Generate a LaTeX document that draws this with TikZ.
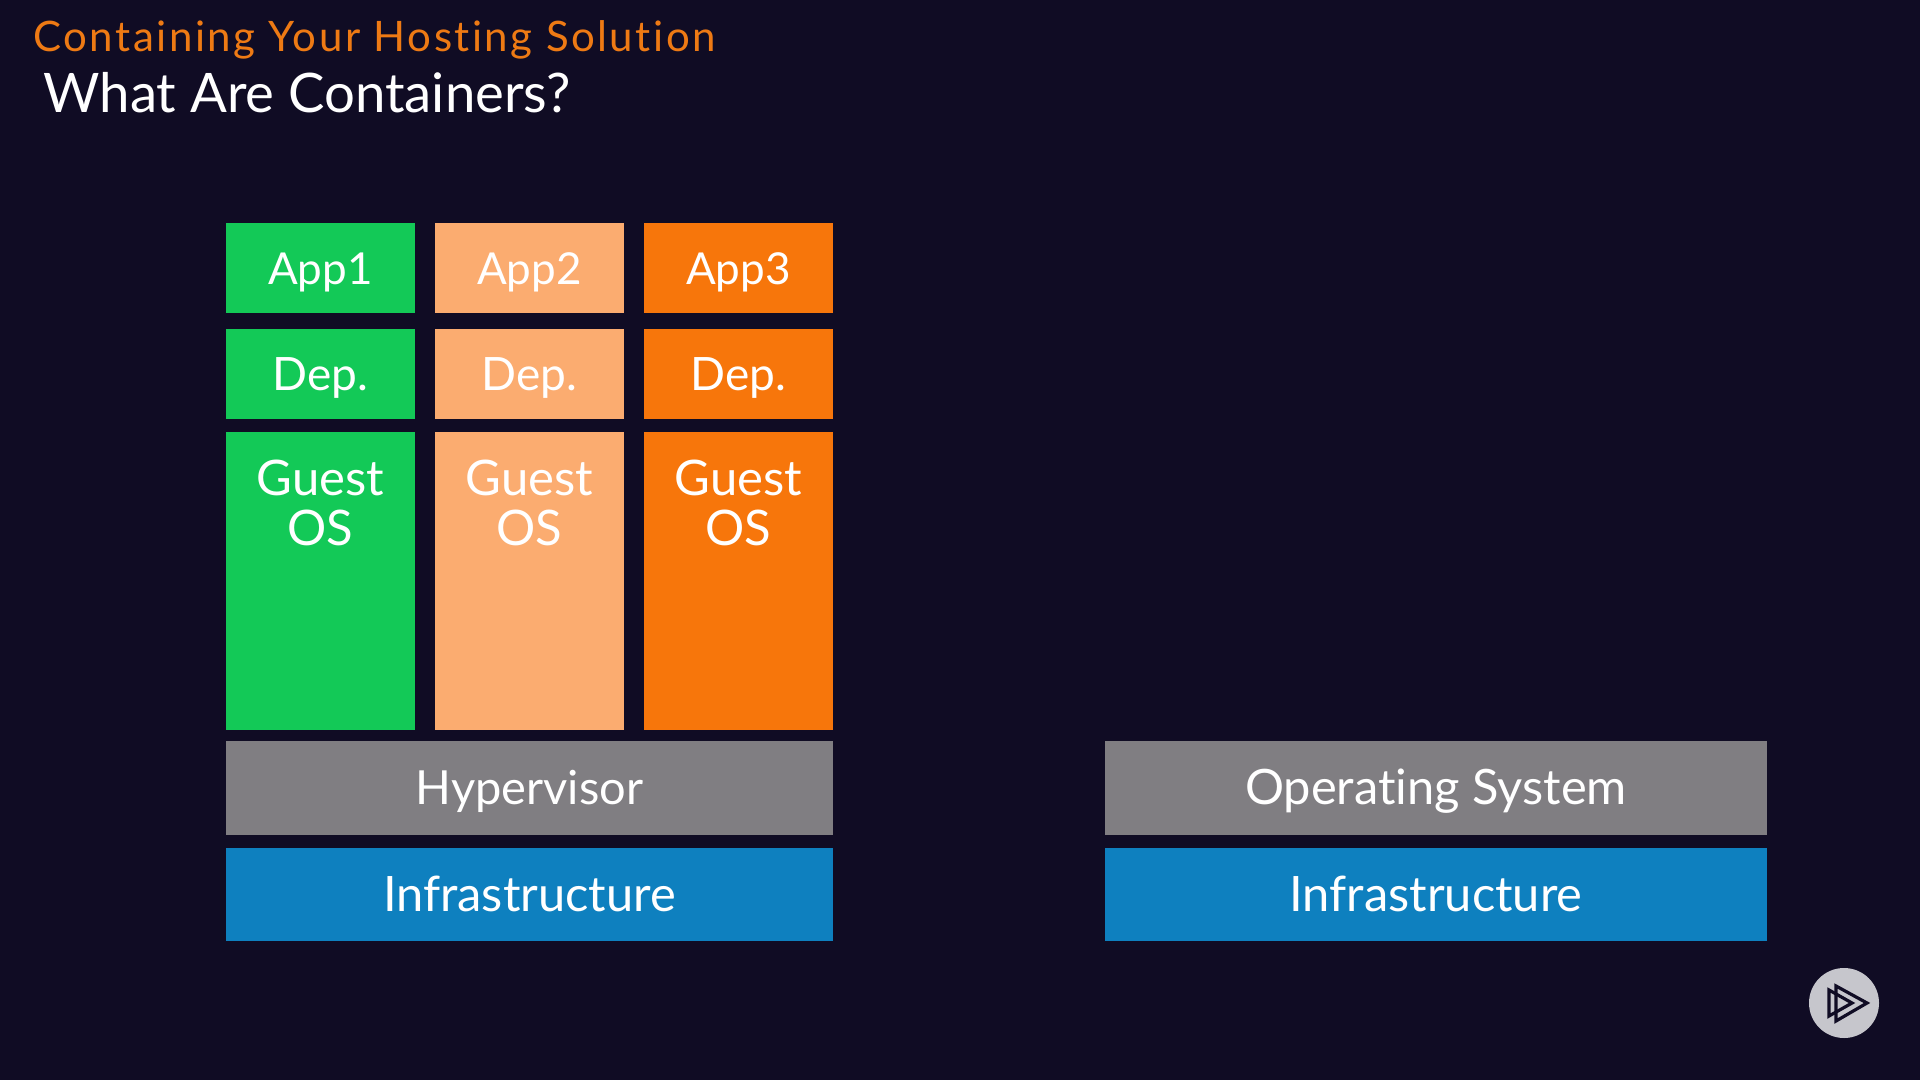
\documentclass[tikz,border=0pt]{standalone}
\usepackage{fontspec}
\usepackage{xcolor}
\setmainfont{Lato}[Ligatures=NoCommon]
\newfontfamily\spacedfont[LetterSpace=6.0,Ligatures=NoCommon]{Lato}
\usetikzlibrary{positioning}
\definecolor{slidebg}{HTML}{100C24}
\definecolor{appgreen}{HTML}{13C957}
\definecolor{apppeach}{HTML}{FBAC70}
\definecolor{apporange}{HTML}{F7760B}
\definecolor{layergray}{HTML}{807E82}
\definecolor{layerblue}{HTML}{0E80BF}
\definecolor{titleorange}{HTML}{EE7A14}
\definecolor{badgegray}{HTML}{C6C6CC}

\begin{document}
\begin{tikzpicture}[
  x=0.5pt, y=-0.5pt,
  block/.style={inner sep=0pt, outer sep=0pt, text=white, text height=16.5pt, text depth=0pt, font=\fontsize{23}{24}\selectfont},
  appbox/.style={block, minimum width=94.5pt, minimum height=45pt},
  applabel/.style={text height=17pt, font=\fontsize{22}{24}\selectfont},
  guestbox/.style={block, minimum width=94.5pt, minimum height=149pt},
  guesttext/.style={inner sep=0pt, outer sep=0pt, text=white, align=center, font=\fontsize{24.5}{25}\selectfont},
  layerbox/.style={block, minimum height=47pt, font=\fontsize{24.4}{24}\selectfont},
  wideleft/.style={minimum width=303.5pt},
  wideright/.style={minimum width=331pt},
  icon/.style={draw=slidebg, line width=1.6pt, line join=miter}
]
\fill[slidebg] (0,0) rectangle (1920,1080);

\node[anchor=base west, inner sep=0pt, text=titleorange, font=\spacedfont\fontsize{21}{24}\selectfont] (section) at (33,52) {Containing Your Hosting Solution};
\node[anchor=base west, inner sep=0pt, text=white, font=\fontsize{27.25}{30}\selectfont] (title) at (43,113) {What Are Containers?};

% first row
\node[appbox, applabel, anchor=north west, fill=appgreen] (app1) at (226,223) {App1};
\node[appbox, applabel, right=10pt of app1, fill=apppeach] (app2) {App2};
\node[appbox, applabel, right=10pt of app2, fill=apporange] (app3) {App3};

\node[appbox, below=8pt of app1, fill=appgreen] (dep1) {Dep.};
\node[appbox, below=8pt of app2, fill=apppeach] (dep2) {Dep.};
\node[appbox, below=8pt of app3, fill=apporange] (dep3) {Dep.};

\node[guestbox, below=6.5pt of dep1, fill=appgreen] (guest1) {};
\node[guestbox, below=6.5pt of dep2, fill=apppeach] (guest2) {};
\node[guestbox, below=6.5pt of dep3, fill=apporange] (guest3) {};
\node[guesttext, below=14pt of guest1.north] (os1) {Guest\\OS};
\node[guesttext, below=14pt of guest2.north] (os2) {Guest\\OS};
\node[guesttext, below=14pt of guest3.north] (os3) {Guest\\OS};

\node[layerbox, wideleft, font=\fontsize{23.5}{24}\selectfont, anchor=north west, fill=layergray] (hypervisor) at (226,741) {Hypervisor};
\node[layerbox, wideleft, minimum height=46.5pt, below=6.5pt of hypervisor, fill=layerblue] (infra1) {Infrastructure};
\node[layerbox, wideright, right=136pt of hypervisor, fill=layergray] (system) {Operating System};
\node[layerbox, wideright, minimum height=46.5pt, below=6.5pt of system, fill=layerblue] (infra2) {Infrastructure};

\node[circle, fill=badgegray, minimum size=35pt, inner sep=0pt] (badge) at (1844,1003) {};
\begin{scope}[shift={(badge)}]
  \draw[icon] (-8,-17) -- (23,0) -- (-8,18) -- cycle;
  \draw[icon] (-15,-13) -- (8,0) -- (-15,13) -- cycle;
\end{scope}
\end{tikzpicture}
\end{document}
